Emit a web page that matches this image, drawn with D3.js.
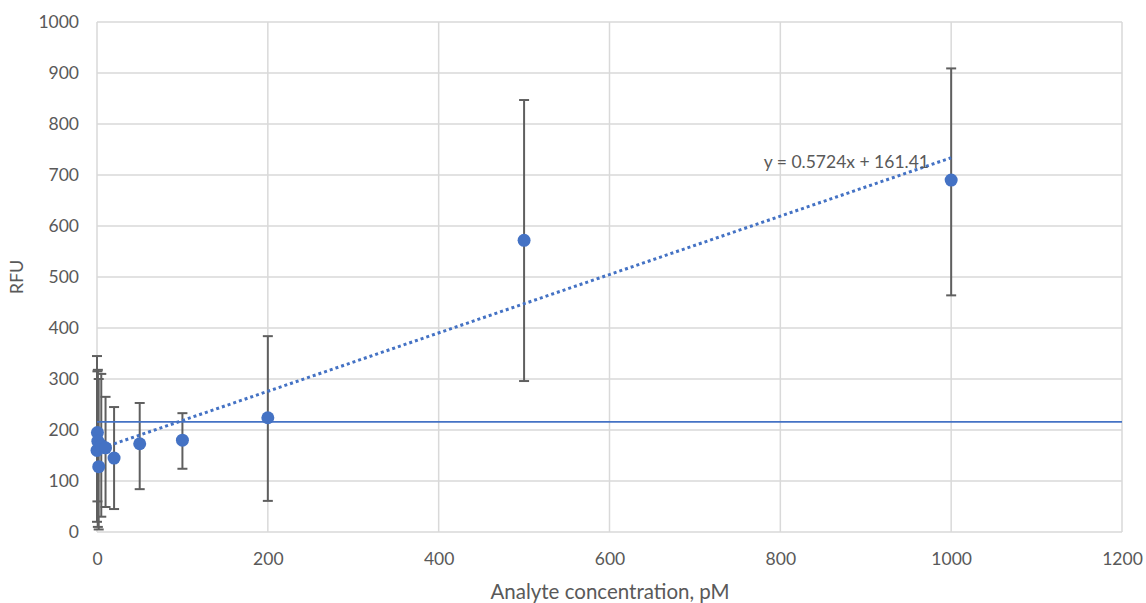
<!DOCTYPE html>
<html>
<head>
<meta charset="utf-8">
<script src="https://cdn.jsdelivr.net/npm/d3@7"></script>
<style>
  html, body { margin: 0; padding: 0; background: #ffffff; }
  svg { display: block; }
  text { font-family: Lato, "Open Sans", "Liberation Sans", sans-serif; fill: #595959; }
</style>
</head>
<body>
<svg id="chart" width="1146" height="603"></svg>
<script>
// ---- data ----
const concentrations = [0, 0.5, 1, 2, 5, 10, 20, 50, 100, 200, 500, 1000];
const rfuMean        = [160, 195, 178, 128, 170, 165, 145, 173, 180, 224, 572, 690];
const rfuLow         = [20, 60, 10, 5, 30, 49, 45, 84, 124, 61, 296, 464];
const rfuHigh        = [345, 315, 318, 300, 310, 265, 245, 253, 233, 384, 847, 909];
const xTicks = [0, 200, 400, 600, 800, 1000, 1200];
const yTicks = [0, 100, 200, 300, 400, 500, 600, 700, 800, 900, 1000];
const trendSlope = 0.5724;
const trendIntercept = 161.41;
const trendRange = [0, 1000];
const thresholdValue = 216;
const thresholdRange = [0, 1200];
const trendLabel = "y = 0.5724x + 161.41";
const xTitle = "Analyte concentration, pM";
const yTitle = "RFU";

// ---- layout ----
const svg = d3.select("#chart");
const x = d3.scaleLinear().domain([0, 1200]).range([97, 1122]);
const y = d3.scaleLinear().domain([0, 1000]).range([532, 22]);
const grid = "#d9d9d9";
const blue = "#4472c4";
const errCol = "#5f5f5f";
const fontFam = "Lato, 'Open Sans', sans-serif";

// gridlines
svg.append("g").selectAll("line").data(yTicks).join("line")
  .attr("x1", x(0)).attr("x2", x(1200))
  .attr("y1", d => y(d)).attr("y2", d => y(d))
  .attr("stroke", grid).attr("stroke-width", 1.5);
svg.append("g").selectAll("line").data(xTicks).join("line")
  .attr("y1", y(0)).attr("y2", y(1000))
  .attr("x1", d => x(d)).attr("x2", d => x(d))
  .attr("stroke", grid).attr("stroke-width", 1.5);

// axes labels via d3 axes
const yAxis = svg.append("g").attr("transform", `translate(${x(0)},0)`)
  .call(d3.axisLeft(y).tickValues(yTicks).tickFormat(d3.format("d")).tickSize(0).tickPadding(18));
yAxis.select(".domain").remove();
yAxis.selectAll("text").attr("font-size", 17.5).attr("fill", "#595959")
  .attr("font-family", fontFam);

const xAxis = svg.append("g").attr("transform", `translate(0,${y(0)})`)
  .call(d3.axisBottom(x).tickValues(xTicks).tickFormat(d3.format("d")).tickSize(0).tickPadding(21));
xAxis.select(".domain").remove();
xAxis.selectAll("text").attr("font-size", 17.5).attr("fill", "#595959")
  .attr("font-family", fontFam);

// titles
svg.append("text").attr("x", 610).attr("y", 599).attr("text-anchor", "middle")
  .attr("font-size", 20.5).text(xTitle);
svg.append("text").attr("transform", "translate(23,277) rotate(-90)")
  .attr("text-anchor", "middle").attr("font-size", 18).text(yTitle);

// data table
const data = concentrations.map((c, i) => ({c, m: rfuMean[i], lo: rfuLow[i], hi: rfuHigh[i]}));

// error bars
const eb = svg.append("g");
eb.selectAll("line.v").data(data).join("line").attr("class", "v")
  .attr("x1", d => x(d.c)).attr("x2", d => x(d.c))
  .attr("y1", d => y(d.lo)).attr("y2", d => y(d.hi))
  .attr("stroke", errCol).attr("stroke-width", 2);
eb.selectAll("line.t").data(data).join("line").attr("class", "t")
  .attr("x1", d => x(d.c) - 5).attr("x2", d => x(d.c) + 5)
  .attr("y1", d => y(d.hi)).attr("y2", d => y(d.hi))
  .attr("stroke", errCol).attr("stroke-width", 2);
eb.selectAll("line.b").data(data).join("line").attr("class", "b")
  .attr("x1", d => x(d.c) - 5).attr("x2", d => x(d.c) + 5)
  .attr("y1", d => y(d.lo)).attr("y2", d => y(d.lo))
  .attr("stroke", errCol).attr("stroke-width", 2);

// threshold line
svg.append("line")
  .attr("x1", x(thresholdRange[0])).attr("x2", x(thresholdRange[1]))
  .attr("y1", y(thresholdValue)).attr("y2", y(thresholdValue))
  .attr("stroke", blue).attr("stroke-width", 1.8);

// trendline
const line = d3.line().x(d => x(d)).y(d => y(trendSlope * d + trendIntercept));
svg.append("path").datum(trendRange).attr("d", line)
  .attr("fill", "none").attr("stroke", blue).attr("stroke-width", 3)
  .attr("stroke-dasharray", "3,3");

// points
svg.append("g").selectAll("circle").data(data).join("circle")
  .attr("cx", d => x(d.c)).attr("cy", d => y(d.m)).attr("r", 6.5)
  .attr("fill", blue);

// trend label
svg.append("text").attr("x", 929).attr("y", 168).attr("text-anchor", "end")
  .attr("font-size", 17.5).attr("fill", "#595959").text(trendLabel);
</script>
</body>
</html>
